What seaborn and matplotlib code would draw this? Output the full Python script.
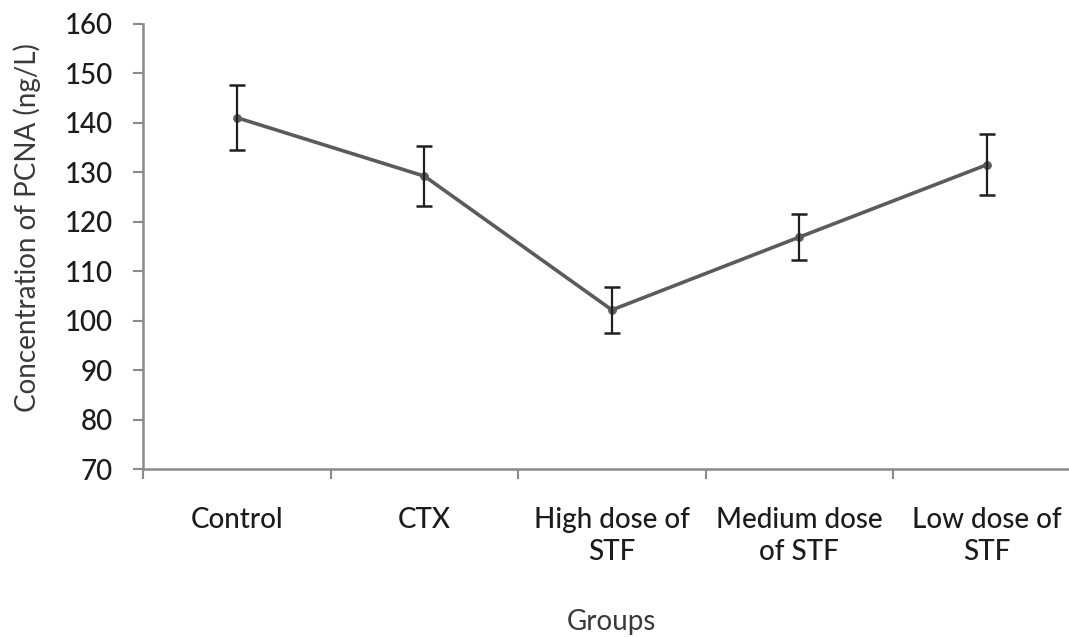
import matplotlib
matplotlib.use("Agg")
import matplotlib.pyplot as plt
import pandas as pd
import seaborn as sns

# ── Data ────────────────────────────────────────────────────────────────────
groups = ['Control', 'CTX', 'High dose of\nSTF', 'Medium dose\nof STF', 'Low dose of\nSTF']
means = [141.0, 129.2, 102.2, 116.9, 131.5]
errors = [6.5, 6.0, 4.6, 4.6, 6.2]

df = pd.DataFrame({'Group': groups, 'PCNA': means, 'err': errors})

# ── Style ───────────────────────────────────────────────────────────────────
sns.set_theme(style='ticks')
plt.rcParams['font.family'] = ['Lato', 'DejaVu Sans']

line_col = '#5b5b5b'
axis_col = '#8a8a8a'
text_col = '#1c1c1c'

fig = plt.figure(figsize=(10.69, 6.37), dpi=100)
ax = fig.add_axes([0.134, 0.263, 0.8768, 0.700])

sns.lineplot(data=df, x='Group', y='PCNA', ax=ax, color=line_col,
             linewidth=2.6, marker='o', markersize=5.5,
             markeredgecolor=line_col, sort=False)
ax.errorbar(range(len(groups)), df['PCNA'], yerr=df['err'], fmt='none',
            ecolor='#1f1f1f', elinewidth=1.6, capsize=6, capthick=1.8, zorder=3)

# Axes limits / ticks (Excel-like category axis)
ax.set_xlim(-0.5, len(groups) - 0.5)
ax.set_ylim(70, 160)
ax.set_yticks(range(70, 161, 10))
ax.set_xticks(range(len(groups)))
ax.set_xticklabels(groups, fontsize=20, color=text_col, linespacing=1.3,
                   fontweight='medium')
ax.set_xticks([i - 0.5 for i in range(len(groups) + 1)], minor=True)
ax.tick_params(axis='x', which='major', length=0, pad=27)
ax.tick_params(axis='x', which='minor', length=7, width=1.5, color=axis_col)
ax.tick_params(axis='y', length=7, width=1.5, color=axis_col, pad=15,
               labelsize=20, labelcolor=text_col)
for lbl in ax.get_yticklabels():
    lbl.set_fontweight('medium')

for s in ['top', 'right']:
    ax.spines[s].set_visible(False)
for s in ['left', 'bottom']:
    ax.spines[s].set_color(axis_col)
    ax.spines[s].set_linewidth(1.8)

ax.set_xlabel('')
ax.set_ylabel('')
fig.text(0.025, 1 - 228 / 637, 'Concentration of PCNA (ng/L)', rotation=90,
         ha='center', va='center', fontsize=20, color='#3a3a3a')
fig.text(611 / 1069, 1 - 622 / 637, 'Groups', ha='center', va='center',
         fontsize=20, color='#3a3a3a')

fig.savefig('out.png', dpi=100, facecolor='white')
